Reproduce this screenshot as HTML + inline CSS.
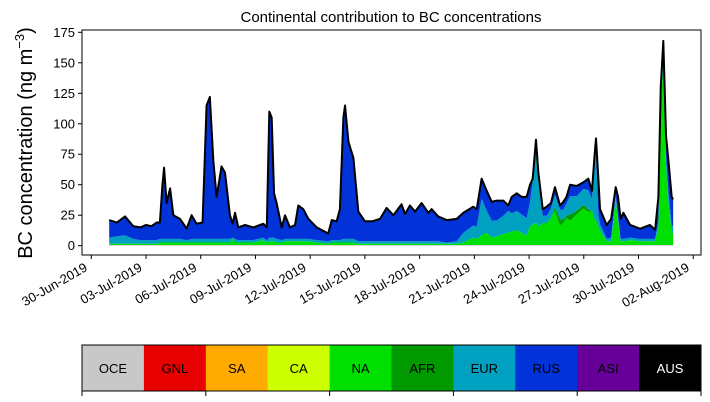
<!DOCTYPE html>
<html><head><meta charset="utf-8"><style>
html,body{margin:0;padding:0;background:#fff;}
svg{display:block;font-family:"Liberation Sans","DejaVu Sans",sans-serif;}
</style></head><body>
<svg id="chart" width="710" height="402" viewBox="0 0 710 402" xmlns="http://www.w3.org/2000/svg">
<text x="391" y="22" font-size="15" text-anchor="middle">Continental contribution to BC concentrations</text>
<text transform="translate(32,143) rotate(-90)" font-size="20" text-anchor="middle">BC concentration (ng m<tspan dy="-8" font-size="13">−3</tspan><tspan dy="8">)</tspan></text>
<g id="plot"></g>
<rect x="82" y="30" width="619" height="225" fill="none" stroke="#000" stroke-width="1"/>
<g id="yaxis"></g>
<g id="xaxis"></g>
<g id="legend"></g>
</svg>
<script>
const days=[0.98,1.4,1.85,2.3,2.7,3.0,3.3,3.58,3.76,3.9,3.99,4.13,4.32,4.5,4.86,5.23,5.5,5.77,6.1,6.32,6.5,6.69,6.87,7.14,7.33,7.6,7.75,7.88,8.06,8.43,8.88,9.43,9.62,9.76,9.89,10.02,10.16,10.44,10.62,10.89,11.17,11.35,11.62,11.9,12.36,12.99,13.18,13.45,13.63,13.82,13.91,14.1,14.37,14.64,15.0,15.4,15.83,16.19,16.56,17.01,17.2,17.47,17.75,18.11,18.48,18.66,19.02,19.48,20.03,20.4,20.94,21.13,21.4,21.68,21.95,22.22,22.59,22.86,23.05,23.32,23.6,23.87,24.05,24.2,24.38,24.51,24.75,24.97,25.2,25.42,25.7,25.88,26.05,26.25,26.61,26.98,27.25,27.45,27.58,27.67,27.8,27.89,28.26,28.5,28.75,28.88,29.02,29.17,29.54,30.09,30.63,30.91,31.09,31.22,31.36,31.51,31.64,31.82,31.9];
const totalBC=[21,19,24,16,15,17,16,19,19,50,64,35,47,25,22,14,25,18,19,115,122,70,40,65,60,25,18,27,15,17,15,18,15,110,105,43,35,15,25,15,17,33,30,22,15,10,21,20,30,105,115,85,72,28,20,20,22,31,25,34,26,33,28,35,27,30,24,21,22,27,32,30,55,45,36,37,37,33,40,43,40,40,50,55,87,60,30,32,35,48,33,36,40,50,49,52,55,45,72,88,55,30,17,22,48,40,22,27,17,14,17,13,40,130,168,90,70,40,38];
const naBC=[1,1,1,1,1,1,1,1,2,2,2,2,2,2,2,2,2,2,2,2,2,2,2,2,2,2,5,2,2,2,2,4,2,3,3,3,2,2,3,3,3,3,3,3,2,1,2,2,2,2,2,2,2,1,1,1,1,1,1,1,1,1,1,1,1,1,1,1,1,2,6,5,8,10,6,7,9,10,11,12,10,8,15,17,18,15,18,18,22,28,16,18,22,20,25,30,27,28,22,20,15,12,3,3,38,20,3,3,4,3,3,3,15,110,150,65,35,10,10];
const afrBC=[0,0,0,0,0,0,0,0,0,0,0,0,0,0,0,0,0,0,0,0,0,0,0,0,0,0,0,0,0,0,0,0,0,0,0,0,0,0,0,0,0,0,0,0,0,0,0,0,0,0,0,0,0,0,0,0,0,0,0,0,0,0,0,0,0,0,0,0,0,0,0,0,0,0,0,0,0,0,0,0,0,0,0,0,0,0,0,0,0,3,5,3,2,5,3,3,2,0,0,0,0,0,0,0,0,0,0,0,0,0,0,0,0,0,0,0,0,0,0];
const eurBC=[5,6,7,4,3,3,3,3,3,3,3,3,3,3,3,2,3,3,3,3,3,3,3,3,3,3,1,3,2,2,2,2,2,3,3,3,3,2,2,2,2,2,2,2,2,2,2,2,2,3,3,3,3,2,2,2,2,2,2,2,2,2,2,2,2,2,2,1,2,8,10,10,30,18,14,13,15,18,15,16,15,14,20,35,58,40,6,6,8,10,8,8,10,15,12,13,16,10,45,55,10,5,2,3,3,3,2,2,2,2,2,2,4,10,10,8,8,6,6];
const oceBC=0.6;
const yTicks=[0,25,50,75,100,125,150,175];
const xTickLabels=["30-Jun-2019","03-Jul-2019","06-Jul-2019","09-Jul-2019","12-Jul-2019","15-Jul-2019","18-Jul-2019","21-Jul-2019","24-Jul-2019","27-Jul-2019","30-Jul-2019","02-Aug-2019"];
const xTickDays=[0,3,6,9,12,15,18,21,24,27,30,33];
const legendLabels=["OCE","GNL","SA","CA","NA","AFR","EUR","RUS","ASI","AUS"];
const legendColors=["#c8c8c8","#e60000","#ffaa00","#ccff00","#00e000","#009900","#00a0c0","#0233d9","#660099","#000000"];

const NS="http://www.w3.org/2000/svg";
const xS=d=>91.3+18.24*d;
const yS=v=>245.7-1.2194*v;
function mk(tag,attrs,parent){const e=document.createElementNS(NS,tag);for(const k in attrs)e.setAttribute(k,attrs[k]);parent.appendChild(e);return e;}
const plot=document.getElementById('plot');
const layers=[
 {name:'oce-area',c:legendColors[0],v:days.map(()=>oceBC)},
 {name:'na-area',c:legendColors[4],v:naBC},
 {name:'afr-area',c:legendColors[5],v:afrBC},
 {name:'eur-area',c:legendColors[6],v:eurBC},
 {name:'rus-area',c:legendColors[7],v:totalBC.map((t,i)=>Math.max(0,t-oceBC-naBC[i]-afrBC[i]-eurBC[i]))}
];
let base=days.map(()=>0);
layers.forEach(L=>{
  const top=base.map((b,i)=>b+L.v[i]);
  let d='M'+days.map((x,i)=>xS(x).toFixed(2)+','+yS(top[i]).toFixed(2)).join('L');
  for(let i=days.length-1;i>=0;i--)d+='L'+xS(days[i]).toFixed(2)+','+yS(base[i]).toFixed(2);
  const p=mk('path',{d:d+'Z',fill:L.c,stroke:'none'},plot);
  
  
  base=top;
});
const line=mk('path',{d:'M'+days.map((x,i)=>xS(x).toFixed(2)+','+yS(totalBC[i]).toFixed(2)).join('L'),fill:'none',stroke:'#000','stroke-width':2,'stroke-linejoin':'round'},plot);


const ya=document.getElementById('yaxis');
yTicks.forEach(t=>{
  const y=yS(t);
  const tk=mk('line',{x1:78,x2:82,y1:y,y2:y,stroke:'#000'},ya);
  
  
  const tx=mk('text',{x:75,y:y+4.5,'font-size':13,'text-anchor':'end'},ya);
  
  
  tx.textContent=t;
});
const xa=document.getElementById('xaxis');
xTickDays.forEach((d,i)=>{
  const x=xS(d);
  const tk=mk('line',{x1:x,x2:x,y1:255,y2:259,stroke:'#000'},xa);
  
  
  const tx=mk('text',{transform:'translate('+(x-3)+',270) rotate(-30)','font-size':13,'text-anchor':'end'},xa);
  
  
  tx.textContent=xTickLabels[i];
});
const lg=document.getElementById('legend');
const w=619/legendLabels.length;
legendLabels.forEach((lab,i)=>{
  const r=mk('rect',{x:82+i*w,y:345,width:w+0.5,height:46,fill:legendColors[i]},lg);
  
  
  const t=mk('text',{x:82+i*w+w/2,y:373,'font-size':13,'text-anchor':'middle',fill:lab==='AUS'?'#fff':'#000'},lg);
  
  
  t.textContent=lab;
});
const fr=mk('rect',{x:82,y:345,width:619,height:46,fill:'none',stroke:'#000'},lg);


for(let i=0;i<=10;i+=2){
  const x=82+i*w;
  const tk=mk('line',{x1:x,x2:x,y1:391,y2:396,stroke:'#000'},lg);
  
  
}
</script>
</body></html>
